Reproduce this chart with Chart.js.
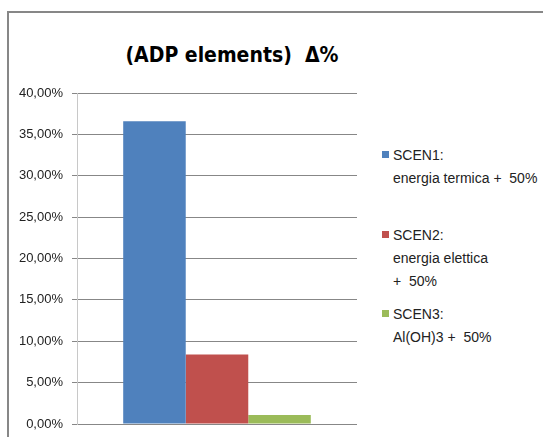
<!DOCTYPE html>
<html>
<head>
<meta charset="utf-8">
<script src="https://cdn.jsdelivr.net/npm/chart.js@4"></script>
<style>
  html, body { margin: 0; padding: 0; background: #fff; }
  #wrap { position: relative; width: 543px; height: 437px; overflow: hidden; }
  #frame { position: absolute; left: 7px; top: 11px; width: 560px; height: 460px; border: 2px solid #878787; }
  #title { position: absolute; left: 0; width: 464px; top: 43px; text-align: center; white-space: pre;
    font: bold 21px "Liberation Sans Narrow", "DejaVu Sans Condensed", sans-serif; color: #000; }
  #legend { position: absolute; left: 382px; top: 0; font: 14px "Liberation Sans Narrow", sans-serif; color: #222; }
  .item { position: absolute; left: 0; white-space: pre; }
  .box { position: absolute; left: 0; top: 6px; width: 7px; height: 7px; }
  .txt { position: absolute; left: 11px; top: -1px; line-height: 23px; }
  canvas { position: absolute; left: 0; top: 0; }
</style>
</head>
<body>
<div id="wrap">
  <div id="frame"></div>
  <div id="title">(ADP elements)  Δ%</div>
  <div id="legend"></div>
  <canvas id="chart" width="543" height="437"></canvas>
</div>
<script>
var categories = [''];
var seriesNames = [
  ['SCEN1:', 'energia termica +  50%'],
  ['SCEN2:', 'energia elettica', '+  50%'],
  ['SCEN3:', 'Al(OH)3 +  50%']
];
var seriesValues = [36.6, 8.4, 1.1];
var seriesColors = ['#4F81BD', '#C0504D', '#9BBB59'];
var legendTops = [145, 225, 304];

var datasets = seriesNames.map(function(name, i){
  return {
    label: name.join(' '),
    data: [seriesValues[i]],
    backgroundColor: seriesColors[i],
    borderWidth: 0
  };
});

var ctx = document.getElementById('chart');
var chart = new Chart(ctx, {
  type: 'bar',
  data: { labels: categories, datasets: datasets },
  options: {
    responsive: false,
    animation: false,
    layout: { padding: { left: 7, right: 186, top: 93, bottom: 13 } },
    datasets: { bar: { categoryPercentage: 0.67, barPercentage: 1.0 } },
    plugins: { legend: { display: false }, title: { display: false }, tooltip: { enabled: false } },
    scales: {
      x: {
        display: false
      },
      y: {
        min: 0,
        max: 40,
        ticks: {
          stepSize: 5,
          padding: 9,
          color: '#222',
          font: { family: '"Liberation Sans Narrow", sans-serif', size: 13 },
          callback: function(v){ return v.toFixed(2).replace('.', ',') + '%'; }
        },
        grid: { color: '#878787', tickLength: 5, tickColor: '#878787' },
        border: { color: '#c8c8c8', width: 1 },
        afterFit: function(scale){
          scale.width = 70;
          scale.paddingTop = 0;
          scale.paddingBottom = 0;
        }
      }
    }
  }
});

var legend = document.getElementById('legend');
seriesNames.forEach(function(name, i){
  var item = document.createElement('div');
  item.className = 'item';
  item.style.top = legendTops[i] + 'px';
  var box = document.createElement('div');
  box.className = 'box';
  box.style.background = seriesColors[i];
  var txt = document.createElement('div');
  txt.className = 'txt';
  txt.textContent = name.join('\n');
  item.appendChild(box);
  item.appendChild(txt);
  legend.appendChild(item);
});
</script>
</body>
</html>
